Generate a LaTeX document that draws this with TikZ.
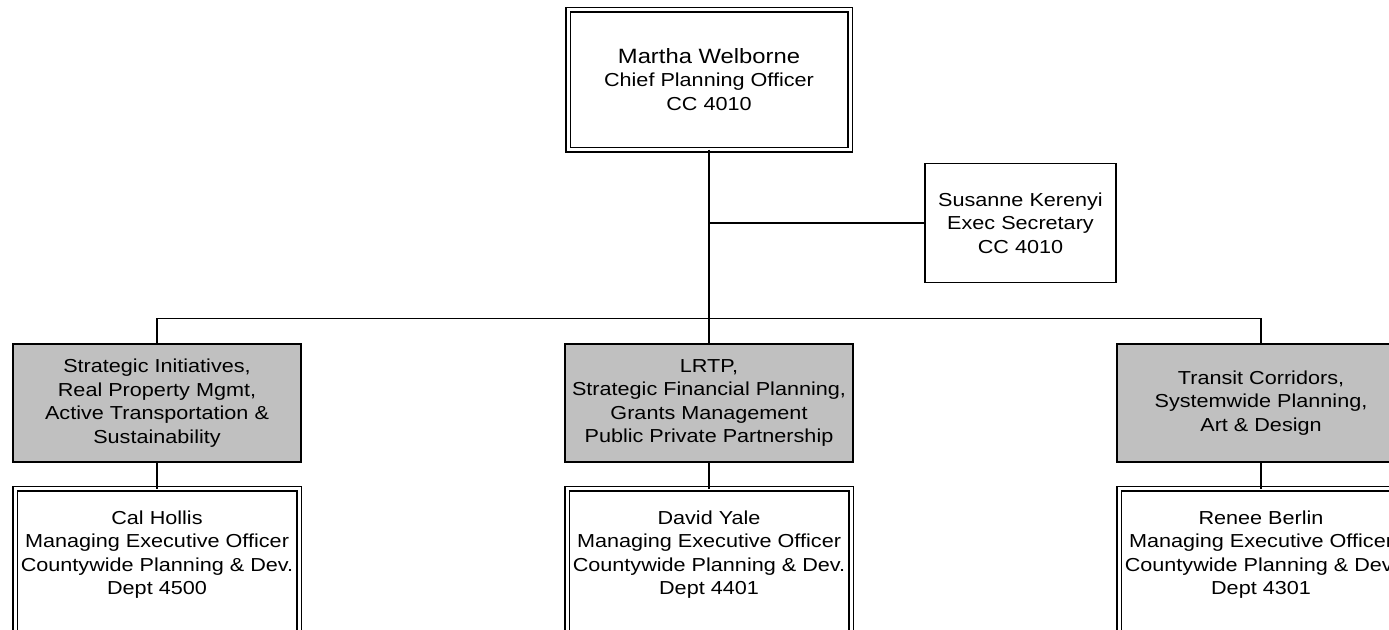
\documentclass[tikz,border=0pt]{standalone}
\usepackage{fontspec}
\setmainfont[FakeStretch=1.15]{Liberation Sans}
\usepackage{xcolor}
\definecolor{unitgray}{RGB}{192,192,192}
\usetikzlibrary{positioning}

\begin{document}
\begin{tikzpicture}[
  x=1pt, y=-1pt, line width=1.8pt,
  font=\fontsize{18.8}{23.6}\selectfont,
  box/.style={draw, align=center, inner sep=0pt, outer sep=0pt},
  head/.style={box, double, double distance=3pt, line width=1.5pt, minimum width=282pt, minimum height=140pt},
  aide/.style={box, minimum width=191pt, minimum height=119pt},
  unit/.style={box, fill=unitgray, minimum width=288pt, minimum height=118pt},
  mgr/.style={box, double, double distance=3pt, line width=1.5pt, minimum width=284pt, anchor=north,
              inner ysep=22pt, text height=84.3pt, text depth=16.7pt},
]
\useasboundingbox (0,0) rectangle (1389,629);
\clip (0,0) rectangle (1389,629);
% --- chief and secretary ---
\node[head] (cpo) at (709,79.5) {{\fontsize{20.7}{24}\selectfont Martha Welborne}\\Chief Planning Officer\\CC 4010};
\node[aide] (sec) at (1020.5,223) {Susanne Kerenyi\\Exec Secretary\\CC 4010};
\coordinate (bar) at (709,318.5);
% --- units ---
\node[unit] (unitL) at (157,403)  {Strategic Initiatives,\\Real Property Mgmt,\\Active Transportation \&\\Sustainability};
\node[unit] (unitM) at (709,403)  {LRTP,\\Strategic Financial Planning,\\Grants Management\\Public Private Partnership};
\node[unit] (unitR) at (1261,403) {Transit Corridors,\\Systemwide Planning,\\Art \& Design};
% --- managers ---
\node[mgr] (mgrL) at (157,488.5)  {Cal Hollis\\Managing Executive Officer\\Countywide Planning \& Dev.\\Dept 4500};
\node[mgr] (mgrM) at (709,488.5)  {David Yale\\Managing Executive Officer\\Countywide Planning \& Dev.\\Dept 4401};
\node[mgr] (mgrR) at (1261,488.5) {Renee Berlin\\Managing Executive Officer\\Countywide Planning \& Dev.\\Dept 4301};
% --- reporting lines ---
\draw (cpo.south) -- (bar);
\draw (sec.west) -- (sec.west -| bar);
\draw (unitL.north) |- (bar) -| (unitR.north);
\draw (bar) -- (unitM.north);
\draw (unitL) -- (mgrL);
\draw (unitM) -- (mgrM);
\draw (unitR) -- (mgrR);
\end{tikzpicture}
\end{document}
